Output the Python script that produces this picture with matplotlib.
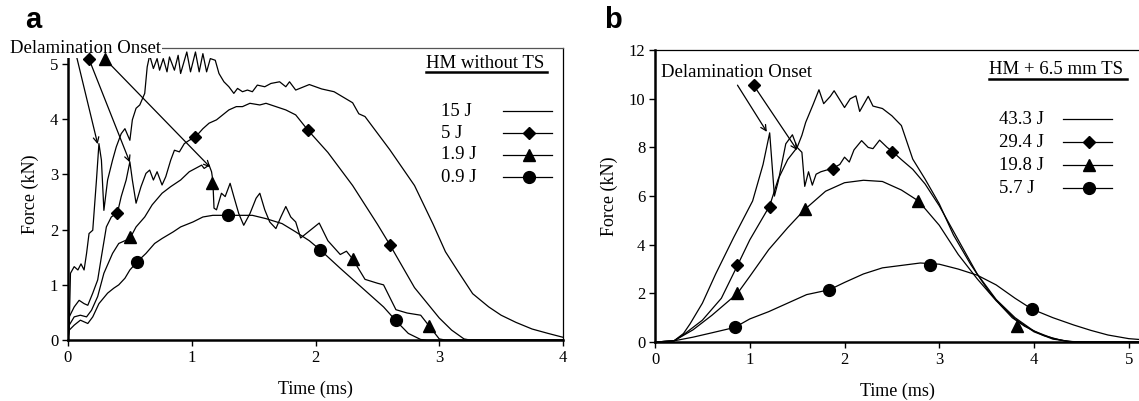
import matplotlib
matplotlib.use('Agg')
import matplotlib.pyplot as plt

plt.rcParams['font.family'] = ['Liberation Serif', 'DejaVu Serif']

# ---------------- panel a : HM without TS ----------------
a_labels = ['15 J', '5 J', '1.9 J', '0.9 J']

a15_t = [0, 0.01, 0.02, 0.05, 0.08, 0.105, 0.13, 0.15, 0.17, 0.2, 0.23, 0.25, 0.27, 0.29, 0.32, 0.36,
         0.39, 0.43, 0.46, 0.5, 0.52, 0.55, 0.58, 0.62, 0.64, 0.66, 0.69, 0.72, 0.74, 0.77, 0.8, 0.82,
         0.86, 0.89, 0.91, 0.96, 0.99, 1.03, 1.06, 1.09, 1.12, 1.15, 1.19, 1.22, 1.26, 1.3, 1.34, 1.37,
         1.41, 1.45, 1.49, 1.53, 1.59, 1.64, 1.71, 1.76, 1.79, 1.84, 1.95, 2.05, 2.15, 2.3, 2.35, 2.4,
         2.6, 2.8, 2.95, 3.05, 3.15, 3.27, 3.4, 3.5, 3.62, 3.75, 3.88, 4.0]
a15_f = [0, 0.24, 1.21, 1.33, 1.27, 1.38, 1.27, 1.57, 1.93, 1.99, 2.9, 3.56, 3.26, 2.35, 2.9, 3.26,
         3.5, 3.74, 3.83, 3.62, 3.99, 4.2, 4.26, 4.47, 4.95, 5.16, 4.92, 5.1, 4.89, 5.1, 4.86, 5.13,
         4.89, 5.16, 4.83, 5.22, 4.86, 5.22, 4.86, 5.19, 4.86, 5.1, 5.07, 4.83, 4.68, 4.59, 4.47, 4.56,
         4.5, 4.53, 4.5, 4.62, 4.59, 4.65, 4.68, 4.59, 4.68, 4.53, 4.63, 4.55, 4.5, 4.3, 4.1, 4.05,
         3.45, 2.8, 2.1, 1.6, 1.25, 0.84, 0.6, 0.45, 0.32, 0.2, 0.12, 0.05]

a5_t = [0, 0.01, 0.05, 0.09, 0.13, 0.16, 0.2, 0.24, 0.27, 0.31, 0.35, 0.4, 0.43, 0.47, 0.5, 0.52, 0.55,
        0.59, 0.63, 0.66, 0.69, 0.72, 0.76, 0.79, 0.83, 0.86, 0.9, 0.94, 0.98, 1.03, 1.09, 1.14, 1.2,
        1.25, 1.3, 1.36, 1.41, 1.47, 1.55, 1.6, 1.68, 1.76, 1.84, 1.94, 2.1, 2.3, 2.5, 2.6, 2.8, 3.0,
        3.1, 3.2, 3.25, 4.0]
a5_f = [0, 0.42, 0.6, 0.72, 0.66, 0.63, 0.85, 1.09, 1.51, 2.05, 2.23, 2.31, 2.6, 2.9, 3.23, 2.9, 2.48,
        2.78, 3.02, 3.08, 2.9, 3.05, 2.81, 2.96, 3.26, 3.44, 3.41, 3.56, 3.62, 3.68, 3.83, 3.93, 3.99,
        4.08, 4.17, 4.23, 4.23, 4.29, 4.26, 4.29, 4.23, 4.17, 4.08, 3.8, 3.4, 2.8, 2.1, 1.73, 0.95, 0.4,
        0.18, 0.02, 0, 0]
a5_mt = [0.4, 1.03, 1.94, 2.6]
a5_mf = [2.31, 3.68, 3.8, 1.73]

a19_t = [0, 0.01, 0.05, 0.1, 0.15, 0.19, 0.24, 0.29, 0.36, 0.41, 0.5, 0.55, 0.62, 0.68, 0.76, 0.83,
         0.91, 0.98, 1.03, 1.08, 1.1, 1.14, 1.16, 1.17, 1.18, 1.2, 1.24, 1.27, 1.31, 1.34, 1.38, 1.42,
         1.47, 1.52, 1.55, 1.59, 1.63, 1.68, 1.72, 1.76, 1.8, 1.84, 1.88, 2.03, 2.1, 2.2, 2.25, 2.3,
         2.4, 2.5, 2.55, 2.65, 2.74, 2.85, 2.92, 3.0, 3.05, 4.0]
a19_f = [0, 0.27, 0.42, 0.45, 0.42, 0.54, 0.79, 1.21, 1.57, 1.75, 1.84, 2.05, 2.23, 2.45, 2.66, 2.78,
         2.9, 3.05, 3.11, 3.17, 3.11, 3.17, 3.05, 2.9, 2.39, 2.36, 2.66, 2.6, 2.84, 2.6, 2.29, 2.08,
         2.29, 2.57, 2.66, 2.36, 2.14, 2.02, 2.23, 2.42, 2.23, 2.14, 1.85, 2.12, 1.8, 1.55, 1.61, 1.47,
         1.1, 1.03, 1.0, 0.55, 0.49, 0.45, 0.25, 0.02, 0, 0]
a19_mt = [0.5, 1.16, 2.3, 2.92]
a19_mf = [1.87, 2.85, 1.47, 0.25]

a09_t = [0, 0.01, 0.05, 0.1, 0.16, 0.2, 0.25, 0.32, 0.37, 0.41, 0.46, 0.5, 0.56, 0.63, 0.7, 0.76, 0.85,
         0.91, 1.01, 1.09, 1.17, 1.29, 1.38, 1.49, 1.6, 1.73, 1.84, 1.95, 2.04, 2.2, 2.4, 2.55, 2.65,
         2.75, 2.85, 2.9, 4.0]
a09_f = [0, 0.18, 0.27, 0.36, 0.3, 0.42, 0.66, 0.85, 0.94, 1.0, 1.12, 1.27, 1.42, 1.57, 1.75, 1.84, 1.96,
         2.05, 2.14, 2.23, 2.26, 2.26, 2.26, 2.26, 2.2, 2.11, 1.96, 1.8, 1.63, 1.3, 0.9, 0.6, 0.35,
         0.12, 0.01, 0, 0]
a09_mt = [0.56, 1.29, 2.04, 2.65]
a09_mf = [1.42, 2.26, 1.63, 0.36]

# ---------------- panel b : HM + 6.5 mm TS ----------------
b_labels = ['43.3 J', '29.4 J', '19.8 J', '5.7 J']

b43_t = [0, 0.2, 0.3, 0.37, 0.5, 0.64, 0.83, 1.03, 1.14, 1.21, 1.26, 1.3, 1.38, 1.45, 1.5, 1.55, 1.59,
         1.67, 1.73, 1.78, 1.85, 1.89, 2.0, 2.06, 2.12, 2.16, 2.25, 2.3, 2.4, 2.5, 2.6, 2.72, 2.85, 3.0,
         3.15, 3.33, 3.52, 3.65, 3.77, 3.9, 4.1, 4.29, 4.4, 5.13]
b43_f = [0, 0.05, 0.35, 0.75, 1.6, 2.8, 4.3, 5.8, 7.3, 8.6, 6.0, 6.6, 8.15, 8.52, 8.0, 8.5, 9.03,
         9.78, 10.37, 9.8, 10.1, 10.33, 9.64, 10.0, 10.12, 9.48, 10.1, 9.7, 9.6, 9.3, 8.9, 7.52, 6.7, 5.68,
         4.4, 3.2, 2.1, 1.5, 1.0, 0.65, 0.27, 0.07, 0, 0]

b29_t = [0, 0.2, 0.3, 0.5, 0.7, 0.87, 1.0, 1.21, 1.3, 1.4, 1.5, 1.55, 1.58, 1.62, 1.66, 1.7, 1.75, 1.88,
         1.95, 2.0, 2.05, 2.1, 2.18, 2.25, 2.3, 2.37, 2.45, 2.5, 2.6, 2.72, 2.85, 3.0, 3.2, 3.4, 3.6,
         3.8, 4.0, 4.2, 4.35, 4.5, 5.13]
b29_f = [0, 0.05, 0.3, 0.9, 1.8, 3.15, 4.2, 5.6, 6.7, 7.5, 8.0, 7.8, 6.4, 7.0, 6.45, 6.9, 7.0, 7.15,
         7.3, 7.6, 7.4, 7.9, 8.28, 8.0, 7.95, 8.3, 8.0, 7.85, 7.5, 7.1, 6.5, 5.6, 4.2, 2.8, 1.75,
         1.0, 0.45, 0.15, 0.03, 0, 0]
b29_mt = [0.87, 1.21, 1.88, 2.5]
b29_mf = [3.15, 5.57, 7.11, 7.8]

b19_t = [0, 0.2, 0.4, 0.6, 0.87, 1.0, 1.2, 1.4, 1.58, 1.8, 2.0, 2.2, 2.4, 2.6, 2.78, 3.0, 3.2, 3.4, 3.6,
         3.8, 4.0, 4.2, 4.4, 4.6, 5.13]
b19_f = [0, 0.05, 0.5, 1.1, 2.0, 2.7, 3.8, 4.7, 5.45, 6.2, 6.55, 6.65, 6.6, 6.25, 5.8, 4.8, 3.6, 2.6, 1.7,
         0.95, 0.42, 0.12, 0.02, 0, 0]
b19_mt = [0.87, 1.58, 2.78, 3.82]
b19_mf = [2.0, 5.45, 5.8, 0.64]

b57_t = [0, 0.2, 0.4, 0.6, 0.84, 1.0, 1.2, 1.4, 1.6, 1.84, 2.0, 2.2, 2.4, 2.6, 2.8, 3.0, 3.2, 3.4, 3.6,
         3.8, 3.98, 4.2, 4.42, 4.6, 4.78, 5.0, 5.13]
b57_f = [0, 0.05, 0.2, 0.38, 0.6, 0.95, 1.25, 1.6, 1.95, 2.15, 2.45, 2.8, 3.05, 3.15, 3.25, 3.2, 3.0,
         2.75, 2.35, 1.8, 1.35, 1.0, 0.7, 0.48, 0.29, 0.14, 0.1]
b57_mt = [0.84, 1.84, 2.9, 3.98]
b57_mf = [0.6, 2.15, 3.15, 1.34]

fig = plt.figure(figsize = (11.39, 4.01), dpi = 100)
axA = fig.add_axes([0.0597, 0.152, 0.4346, 0.728])
axB = fig.add_axes([0.5751, 0.147, 0.4259, 0.728])

lw = 0.9
mk = {'D': 6.5, '^': 8, 'o': 8.5}

def draw_series(ax, t, f, mt, mf, marker):
    ax.plot(t, f, color = 'black', lw = lw)
    if marker is not None:
        ax.plot(mt, mf, linestyle = 'none', marker = marker, color = 'black', ms = mk[marker], zorder = 4)

draw_series(axA, a15_t, a15_f, None, None, None)
draw_series(axA, a5_t, a5_f, a5_mt, a5_mf, 'D')
draw_series(axA, a19_t, a19_f, a19_mt, a19_mf, '^')
draw_series(axA, a09_t, a09_f, a09_mt, a09_mf, 'o')

draw_series(axB, b43_t, b43_f, None, None, None)
draw_series(axB, b29_t, b29_f, b29_mt, b29_mf, 'D')
draw_series(axB, b19_t, b19_f, b19_mt, b19_mf, '^')
draw_series(axB, b57_t, b57_f, b57_mt, b57_mf, 'o')

# axes styling
axA.set_xlim(0, 4)
axA.set_ylim(0, 5.29)
axA.set_xticks([0, 1, 2, 3, 4])
axA.set_yticks([0, 1, 2, 3, 4, 5])
axB.set_xlim(0, 5.12)
axB.set_ylim(0, 12)
axB.set_xticks([0, 1, 2, 3, 4, 5])
axB.set_yticks([0, 2, 4, 6, 8, 10, 12])

for ax in (axA, axB):
    ax.spines['left'].set_linewidth(1.8)
    ax.spines['bottom'].set_linewidth(1.8)
    ax.spines['top'].set_linewidth(0.9)
    ax.spines['right'].set_linewidth(0.9)
    ax.tick_params(direction = 'out', length = 4, width = 1, labelsize = 12, pad = 3)
    ax.set_xlabel('Time (ms)', fontsize = 13, labelpad = 11)
    ax.set_ylabel('Force (kN)', fontsize = 13, labelpad = 8)
axA.spines['top'].set_color('#555555')
axB.spines['right'].set_visible(False)

# panel letters
fig.text(0.022, 0.93, 'a', family = 'Liberation Sans', fontweight = 'bold', fontsize = 21)
fig.text(0.530, 0.93, 'b', family = 'Liberation Sans', fontweight = 'bold', fontsize = 21)

# delamination annotations, panel a
arrow = dict(arrowstyle = '->', color = 'black', lw = 0.9, shrinkA = 0, shrinkB = 0)
axA.text(-0.47, 5.29, 'Delamination Onset', fontsize = 13.5, ha = 'left', va = 'center',
         clip_on = False, zorder = 6, bbox = dict(facecolor = 'white', edgecolor = 'none', pad = 1))
axA.annotate('', xy = (0.24, 3.55), xytext = (0.07, 5.13), arrowprops = arrow, annotation_clip = False)
axA.annotate('', xy = (0.5, 3.22), xytext = (0.17, 5.09), arrowprops = arrow, annotation_clip = False)
axA.annotate('', xy = (1.15, 3.13), xytext = (0.3, 5.09), arrowprops = arrow, annotation_clip = False)
axA.plot([0.17], [5.09], marker = 'D', color = 'black', ms = mk['D'], clip_on = False, zorder = 7)
axA.plot([0.3], [5.09], marker = '^', color = 'black', ms = mk['^'], clip_on = False, zorder = 7)

# delamination annotations, panel b
axB.text(0.06, 11.1, 'Delamination Onset', fontsize = 13.5, ha = 'left', va = 'center')
axB.annotate('', xy = (1.18, 8.64), xytext = (0.87, 10.56), arrowprops = arrow)
axB.annotate('', xy = (1.5, 7.89), xytext = (1.04, 10.56), arrowprops = arrow)
axB.plot([1.04], [10.56], marker = 'D', color = 'black', ms = mk['D'], zorder = 7)

# hand-made legends
def legend_block(ax, title, tx, ty, ux0, ux1, uy, labels, lx, ly, l0, l1, mx):
    ax.text(tx, ty, title, transform = ax.transAxes, fontsize = 13.5, ha = 'left', va = 'center')
    ax.plot([ux0, ux1], [uy, uy], transform = ax.transAxes, color = 'black', lw = 1.8, clip_on = False)
    markers = [None, 'D', '^', 'o']
    for lab, yy, m in zip(labels, ly, markers):
        ax.text(lx, yy, lab, transform = ax.transAxes, fontsize = 13.5, ha = 'left', va = 'center')
        ax.plot([l0, l1], [yy, yy], transform = ax.transAxes, color = 'black', lw = lw)
        if m is not None:
            ax.plot([mx], [yy], transform = ax.transAxes, marker = m, color = 'black', ms = mk[m])

legend_block(axA, 'HM without TS', 0.723, 0.949, 0.723, 0.968, 0.918, a_labels,
             0.754, [0.784, 0.709, 0.634, 0.558], 0.879, 0.978, 0.931)
legend_block(axB, 'HM + 6.5 mm TS', 0.688, 0.932, 0.688, 0.973, 0.901, b_labels,
             0.709, [0.764, 0.685, 0.606, 0.527], 0.841, 0.942, 0.895)

fig.savefig('out.png', dpi = 100)
